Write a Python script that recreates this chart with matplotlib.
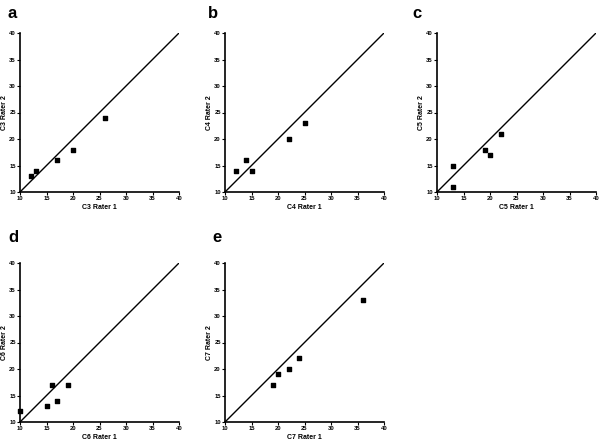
import matplotlib
matplotlib.use("Agg")
import matplotlib.pyplot as plt

plt.rcParams['font.family'] = ['Liberation Sans', 'DejaVu Sans']

panel_letters = ['a', 'b', 'c', 'd', 'e']
xlabels = ['C3 Rater 1', 'C4 Rater 1', 'C5 Rater 1', 'C6 Rater 1', 'C7 Rater 1']
ylabels = ['C3 Rater 2', 'C4 Rater 2', 'C5 Rater 2', 'C6 Rater 2', 'C7 Rater 2']
rater1 = [
    [12, 13, 17, 20, 26],
    [12, 14, 15, 22, 25],
    [13, 13, 19, 20, 22],
    [10, 15, 16, 17, 19],
    [19, 20, 22, 24, 36],
]
rater2 = [
    [13, 14, 16, 18, 24],
    [14, 16, 14, 20, 23],
    [15, 11, 18, 17, 21],
    [12, 13, 17, 14, 17],
    [17, 19, 20, 22, 33],
]
ticks = [10, 15, 20, 25, 30, 35, 40]

fig = plt.figure(figsize=(6, 4.41), dpi=100)
W, H = 600, 441
boxes = [(20, 33), (225, 33), (437, 33), (20, 263), (225, 263)]
letter_pos = [(8, 6), (208, 6), (412, 6), (8, 230), (212, 230)]
size = 159

for i in range(5):
    x0, y0 = boxes[i]
    ax = fig.add_axes([x0 / W, 1 - (y0 + size) / H, size / W, size / H])
    ax.plot([10, 40], [10, 40], color='black', lw=1.0)
    ax.scatter(rater1[i], rater2[i], marker='s', s=5, color='black', zorder=3, clip_on=False)
    ax.set_xlim(10, 40)
    ax.set_ylim(10, 40)
    ax.set_xticks(ticks)
    ax.set_yticks(ticks)
    ax.tick_params(labelsize=4.2, length=2, width=0.8, pad=1)
    for lab in ax.get_xticklabels() + ax.get_yticklabels():
        lab.set_fontweight('bold')
    ax.spines['top'].set_visible(False)
    ax.spines['right'].set_visible(False)
    ax.spines['left'].set_linewidth(1.2)
    ax.spines['bottom'].set_linewidth(1.2)
    ax.set_xlabel(xlabels[i], fontsize=5, fontweight='bold', labelpad=2)
    ax.set_ylabel(ylabels[i], fontsize=5, fontweight='bold', labelpad=1)
    lx, ly = letter_pos[i]
    fig.text(lx / W, 1 - ly / H, panel_letters[i], fontsize=12, fontweight='bold', va='top', ha='left')

fig.savefig('out.png', dpi=100)
